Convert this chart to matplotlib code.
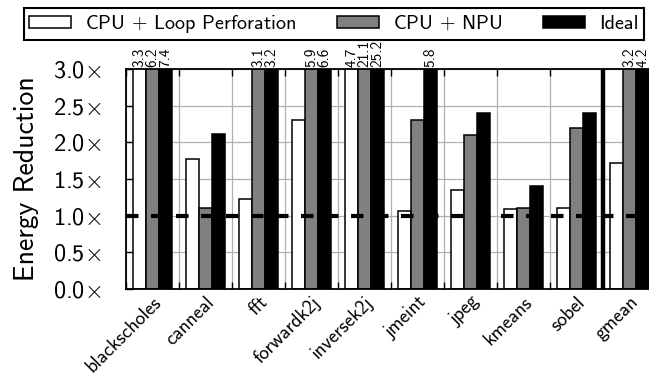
import numpy as np
import matplotlib
matplotlib.use("Agg")
import matplotlib.pyplot as plt

plt.rcParams["font.family"] = "cmss10"
plt.rcParams["mathtext.fontset"] = "cm"
plt.rcParams["axes.unicode_minus"] = False

benchmarks = ["blackscholes", "canneal", "fft", "forwardk2j", "inversek2j",
              "jmeint", "jpeg", "kmeans", "sobel", "gmean"]
loop_perf = [3.3, 1.77, 1.23, 2.30, 4.7, 1.06, 1.35, 1.09, 1.11, 1.72]
cpu_npu = [6.2, 1.10, 3.1, 5.9, 21.1, 2.30, 2.10, 1.10, 2.20, 3.2]
ideal = [7.4, 2.11, 3.2, 6.6, 25.2, 5.8, 2.40, 1.40, 2.40, 4.2]
series_names = ["CPU $+$ Loop Perforation", "CPU $+$ NPU", "Ideal"]
series_colors = ["white", "#808080", "black"]
yticks = [0.0, 0.5, 1.0, 1.5, 2.0, 2.5, 3.0]
ymax = 3.0

fig = plt.figure(figsize=(6.49, 3.74), dpi=100)
ax = fig.add_axes([126 / 649, 1 - 289 / 374, 530 / 649, 220 / 374])

x = np.arange(len(benchmarks))
width = 0.25
handles = []
for i, (vals, name, col) in enumerate(zip([loop_perf, cpu_npu, ideal],
                                          series_names, series_colors)):
    pos = x + (i - 1) * width
    b = ax.bar(pos, vals, width, color=col, edgecolor="black",
               linewidth=1.1, label=name, zorder=2)
    handles.append(b)
    # values above the y range are written on top of the frame
    for px, v in zip(pos, vals):
        if v > ymax:
            ax.annotate(f"{v:.1f}", xy=(px, ymax), xytext=(0, 1.5),
                        textcoords="offset points", rotation=90,
                        ha="center", va="bottom", fontsize=11,
                        annotation_clip=False)

ax.axhline(1.0, color="black", lw=3, dashes=(3, 3), zorder=4)
ax.axvline(len(benchmarks) - 1.5, color="black", lw=3.2, zorder=4)

ax.set_xlim(-0.5, len(benchmarks) - 0.5)
ax.set_ylim(0, ymax)
ax.set_yticks(yticks)
ax.set_yticklabels([f"{t:.1f}$\\times$" for t in yticks], fontsize=17.5)
ax.set_ylabel("Energy Reduction", fontsize=20, labelpad=10)

ax.set_xticks(np.arange(len(benchmarks) + 1) - 0.5)
ax.set_xticklabels([])
ax.set_xticks(x, minor=True)
ax.set_xticklabels(benchmarks, minor=True, rotation=45, ha="right",
                   va="top", rotation_mode="anchor", fontsize=14)
ax.tick_params(axis="x", which="major", direction="in", top=True,
               length=5, width=1)
ax.tick_params(axis="x", which="minor", length=0, pad=3)
ax.tick_params(axis="y", direction="in", length=5, width=1, right=True,
               pad=18)
ax.grid(True, which="major", color="#b0b0b0", lw=0.9, zorder=0)
ax.set_axisbelow(True)
for s in ax.spines.values():
    s.set_linewidth(1.3)

fig.legend(handles=handles, labels=series_names, loc="upper left",
           bbox_to_anchor=(24 / 649, 1 - 8 / 374), ncol=3, fontsize=14.5,
           frameon=True, fancybox=False, edgecolor="black", framealpha=1,
           borderpad=0.25, handlelength=2.1, handleheight=0.5,
           handletextpad=0.7, columnspacing=2.0, borderaxespad=0)
fig.legends[0].get_frame().set_linewidth(1.5)

fig.savefig("out.png", dpi=100)
